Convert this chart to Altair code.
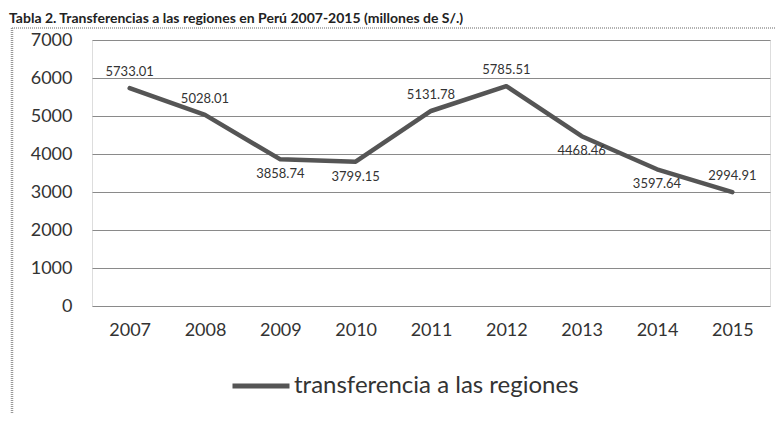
import altair as alt
import pandas as pd

years = ["2007", "2008", "2009", "2010", "2011", "2012", "2013", "2014", "2015"]
values = [5733.01, 5028.01, 3858.74, 3799.15, 5131.78, 5785.51, 4468.46, 3597.64, 2994.91]
labels = ["5733.01", "5028.01", "3858.74", "3799.15", "5131.78", "5785.51", "4468.46", "3597.64", "2994.91"]
above_years = ["2007", "2008", "2011", "2012", "2015"]
series_name = "transferencia a las regiones"
title_text = "Tabla 2. Transferencias a las regiones en Perú 2007-2015 (millones de S/.)"
y_ticks = [0, 1000, 2000, 3000, 4000, 5000, 6000, 7000]

df = pd.DataFrame({"year": years, "value": values, "label": labels, "serie": series_name})
df["above"] = df["year"].isin(above_years)

FONT = "Lato"

x_enc = alt.X("year:O", title=None, sort=years,
              scale=alt.Scale(type="point", padding=0.5),
              axis=alt.Axis(labelAngle=0, labelFontSize=18, labelColor="#333",
                            labelFont=FONT, ticks=False, domain=False, labelPadding=15,
                            grid=False))
y_enc = alt.Y("value:Q", title=None,
              scale=alt.Scale(domain=[0, 7000], nice=False),
              axis=alt.Axis(values=y_ticks, format="d", labelFontSize=18, labelColor="#333",
                            labelFont=FONT, ticks=False, domain=False, labelPadding=20,
                            grid=True, gridColor="#8a8a8a", gridWidth=1.2))

base = alt.Chart(df)

line = base.mark_line(strokeWidth=4.5, strokeJoin="round", strokeCap="round").encode(
    x=x_enc, y=y_enc,
    color=alt.Color("serie:N", title=None,
                    scale=alt.Scale(range=["#555555"]),
                    legend=alt.Legend(orient="none", legendX=138, legendY=315,
                                      symbolType="stroke", symbolSize=3249,
                                      symbolStrokeWidth=5, labelFontSize=24,
                                      labelFont=FONT, labelColor="#333",
                                      labelOffset=2, padding=0, labelLimit=0))
)

txt_above = base.transform_filter("datum.above").mark_text(
    fontSize=13, font=FONT, color="#333", dy=-16, baseline="middle"
).encode(x=x_enc, y=y_enc, text="label:N")

txt_below = base.transform_filter("!datum.above").mark_text(
    fontSize=13, font=FONT, color="#333", dy=15, baseline="middle"
).encode(x=x_enc, y=y_enc, text="label:N")

title = alt.Chart(pd.DataFrame({"t": [title_text]})).mark_text(
    fontSize=14, font=FONT, fontWeight="bold", color="#222", align="left",
    baseline="alphabetic"
).encode(x=alt.value(-83), y=alt.value(-17), text="t:N")

frame_top = alt.Chart(pd.DataFrame({"a": [0]})).mark_rule(
    color="#999", strokeWidth=1.5, strokeDash=[1, 1]
).encode(x=alt.value(-80), x2=alt.value(700), y=alt.value(-12))

frame_left = alt.Chart(pd.DataFrame({"a": [0]})).mark_rule(
    color="#999", strokeWidth=2.5, strokeDash=[1, 1]
).encode(x=alt.value(-80), y=alt.value(-12), y2=alt.value(400))

chart = alt.layer(frame_top, frame_left, line, txt_above, txt_below, title).properties(
    width=678, height=266,
    autosize=alt.AutoSizeParams(type="none"),
    padding={"left": 84, "top": 32, "right": 6, "bottom": 107},
).configure_view(stroke=None).configure(background="white")

chart.save("out.html", embed_options={"renderer": "svg", "actions": False})
